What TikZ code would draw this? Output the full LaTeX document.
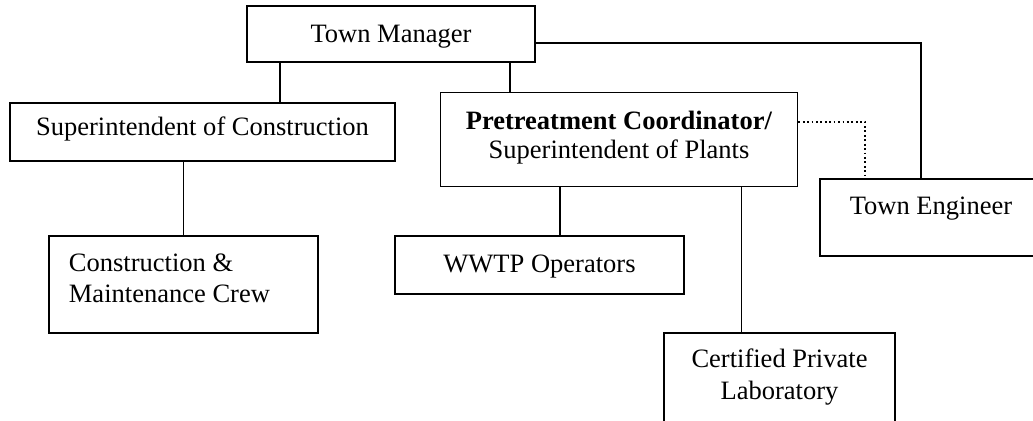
\documentclass[tikz,border=0pt]{standalone}
\usepackage{fontspec}
\setmainfont{Liberation Serif}
\newcommand{\topgap}[1]{\rule{0pt}{#1}}
\newcommand{\botgap}[1]{\rule[-#1]{0pt}{#1}}

\begin{document}
\begin{tikzpicture}[x=0.4525pt,y=-0.4525pt,line width=0.8pt,
                    font=\fontsize{12pt}{14.3pt}\selectfont,
                    org box/.style={rectangle,draw,inner sep=0pt,align=center},
                    dotted link/.style={line width=0.7pt,dash pattern=on 0.8pt off 1.2pt}]

  \useasboundingbox (0,0) rectangle (1033,421);

  % boxes
  \node[org box,minimum width=130.3pt,minimum height=25.3pt,text height=10pt,text depth=2pt] (tm) at (391,34) {Town Manager};
  \node[org box,minimum width=174.2pt,minimum height=26.2pt,text height=8pt,text depth=4.9pt] (soc) at (202.5,132) {Superintendent of Construction};
  \node[org box,minimum width=161.5pt,minimum height=42.5pt] (pc) at (619,139.5)
    {\topgap{10pt}\textbf{Pretreatment Coordinator/}\\[-1.6pt]Superintendent of Plants\botgap{5.9pt}};
  \node[org box,minimum width=100.5pt,minimum height=34.8pt,text height=9pt,text depth=11.6pt] (te) at (931,217.5) {Town Engineer};
  \node[org box,align=flush left,inner xsep=9pt,text width=103.7pt,minimum height=43.9pt] (cmc) at (183.5,284.5)
    {\topgap{10pt}Construction \&\\Maintenance Crew\botgap{7.9pt}};
  \node[org box,minimum width=130.8pt,minimum height=26.2pt,text height=9pt,text depth=2.6pt] (wwtp) at (539.5,265) {WWTP Operators};
  \node[org box,anchor=north,minimum width=104.5pt,minimum height=53.4pt] (cpl) at (779.5,332)
    {\topgap{10pt}Certified Private\\Laboratory\botgap{17.7pt}};

  % connectors
  \draw (tm.south -| 280,0) -- (soc.north -| 280,0);
  \draw (tm.south -| 510,0) -- (pc.north -| 510,0);
  \draw (tm.east |- 0,43) -| (te.north -| 921,0);
  \draw[dotted link] (pc.east |- 0,122) -| (te.north -| 865,0);
  \draw (soc.south -| cmc.north) -- (cmc.north);
  \draw (pc.south -| 560,0) -- (wwtp.north -| 560,0);
  \draw (pc.south -| 741.5,0) -- (cpl.north -| 741.5,0);
\end{tikzpicture}
\end{document}
